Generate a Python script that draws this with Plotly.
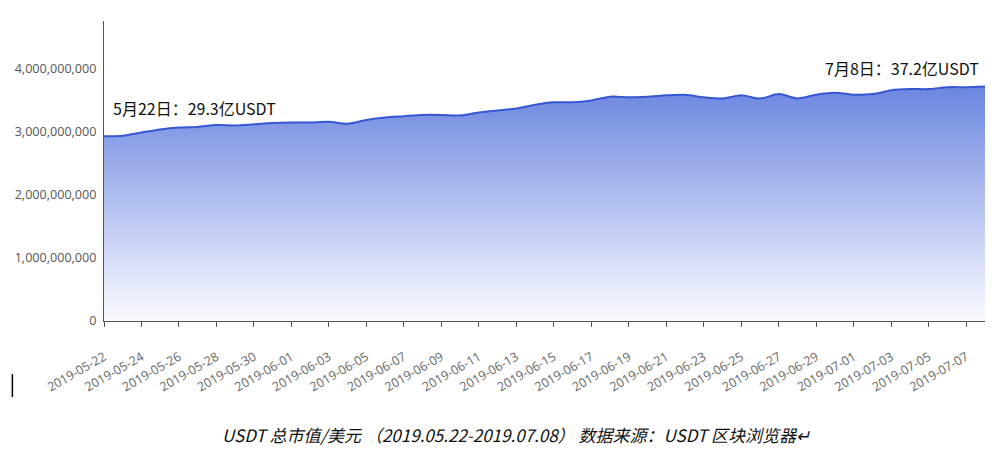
import pandas as pd
import plotly.graph_objects as go

start_date = "2019-05-22"
end_date = "2019-07-08"
dates = pd.date_range(start_date, end_date, freq="D")

# USDT total market cap, in 亿 (1e8) USD
cap_yi = [29.3, 29.4, 29.9, 30.4, 30.7, 30.8, 31.1, 31.0, 31.2, 31.4,
          31.5, 31.5, 31.6, 31.3, 31.9, 32.3, 32.5, 32.7, 32.7, 32.6,
          33.1, 33.4, 33.7, 34.3, 34.7, 34.7, 35.0, 35.6, 35.5, 35.6,
          35.8, 35.9, 35.5, 35.3, 35.8, 35.3, 36.0, 35.3, 35.9, 36.2,
          35.9, 36.0, 36.6, 36.8, 36.8, 37.1, 37.1, 37.2]
cap = [v * 1e8 for v in cap_yi]

y_ticks = [0, 1e9, 2e9, 3e9, 4e9]
label_first = "5月22日：29.3亿USDT"
label_last = "7月8日：37.2亿USDT"
caption = "USDT 总市值/美元 （2019.05.22-2019.07.08） 数据来源：USDT 区块浏览器↵"

fig = go.Figure()
fig.add_trace(go.Scatter(
    x=dates, y=cap, mode="lines",
    line=dict(color="#3557d4", width=2, shape="spline", smoothing=0.8),
    fill="tozeroy",
    fillgradient=dict(type="vertical",
                      colorscale=[[0, "rgba(250,251,255,1)"], [1, "rgb(108,134,224)"]]),
    hoverinfo="x+y",
))

fig.add_annotation(x=dates[0], y=cap[0], text=label_first, showarrow=False,
                   xanchor="left", yanchor="bottom", xshift=7, yshift=14,
                   font=dict(family="Noto Sans CJK SC", size=16, color="#111"))
fig.add_annotation(x=dates[-1], y=cap[-1], text=label_last, showarrow=False,
                   xanchor="right", yanchor="bottom", xshift=-4, yshift=5,
                   font=dict(family="Noto Sans CJK SC", size=16, color="#111"))

fig.add_annotation(xref="paper", yref="paper", x=0.468, y=-0.38, yanchor="middle",
                   text="<i>" + caption + "</i>", showarrow=False,
                   font=dict(family="Noto Sans CJK SC", size=17, color="#111"))

fig.add_shape(type="line", xref="paper", yref="paper",
              x0=-0.104, x1=-0.104, y0=-0.177, y1=-0.253,
              line=dict(color="#000", width=1.5))

fig.update_xaxes(
    type="date", range=[start_date, end_date],
    tick0=start_date, dtick=2 * 86400000, tickformat="%Y-%m-%d",
    tickangle=-30, ticks="outside", ticklen=5, tickcolor="#555",
    ticklabelstandoff=18,
    showline=True, linecolor="#555", linewidth=1, showgrid=False, zeroline=False,
    tickfont=dict(family="Open Sans", size=12.5, color="#666"),
)
fig.update_yaxes(
    range=[0, 4.76e9], tickvals=y_ticks, tickformat=",.0f",
    showline=True, linecolor="#555", linewidth=1, showgrid=False, zeroline=False,
    ticks="", ticklabelstandoff=4,
    tickfont=dict(family="Open Sans", size=12.6, color="#555"),
)

fig.update_layout(
    width=1008, height=455,
    margin=dict(l=104, r=23, t=21, b=134, autoexpand=False),
    plot_bgcolor="white", paper_bgcolor="white",
    showlegend=False,
)

fig.write_html("out.html", config={"displayModeBar": False},
               post_script="document.body.style.margin='0';")
